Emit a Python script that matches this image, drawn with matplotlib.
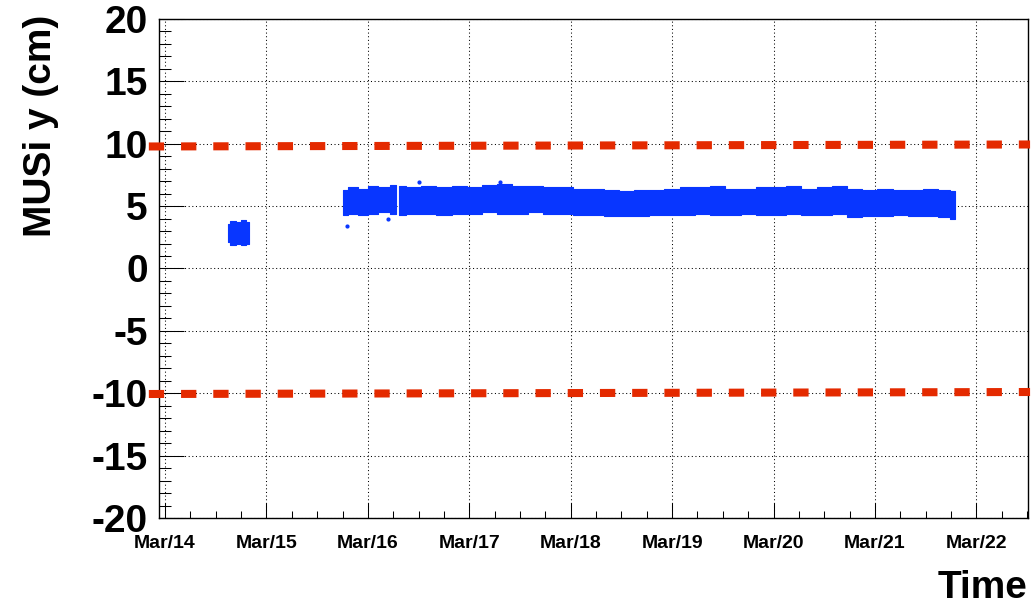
import datetime as dt

import matplotlib
matplotlib.use("Agg")
import matplotlib.pyplot as plt
import matplotlib.dates as mdates
import numpy as np

plt.rcParams["font.family"] = ["Liberation Sans", "DejaVu Sans"]
plt.rcParams["font.weight"] = "bold"
plt.rcParams["axes.unicode_minus"] = False

# time origin: Mar/14 00:00 (year is arbitrary)
T0 = dt.datetime(2012, 3, 14)

# first short run (days since Mar/14, cm)
t_run1 = [0.62, 0.67, 0.72, 0.77, 0.83]
top_run1 = [3.6, 3.8, 3.7, 3.9, 3.7]
bot_run1 = [2.1, 1.9, 2.0, 1.9, 2.0]

# long run envelope; nan marks the short gap on Mar/16
t_band = [1.75, 1.85, 1.95, 2.05, 2.15, 2.28, 2.295, 2.31, 2.45, 2.6, 2.75,
          2.9, 3.05, 3.2, 3.35, 3.5, 3.65, 3.8, 3.95, 4.1, 4.25, 4.4, 4.55,
          4.7, 4.85, 5.0, 5.15, 5.3, 5.45, 5.6, 5.75, 5.9, 6.05, 6.2, 6.35,
          6.5, 6.65, 6.8, 6.95, 7.1, 7.25, 7.4, 7.55, 7.7, 7.79]
top_band = [6.3, 6.5, 6.4, 6.6, 6.5, 6.7, np.nan, 6.6, 6.5, 6.6, 6.5,
            6.6, 6.5, 6.7, 6.8, 6.6, 6.6, 6.5, 6.5, 6.4, 6.4, 6.3, 6.2,
            6.3, 6.3, 6.4, 6.5, 6.5, 6.6, 6.4, 6.4, 6.5, 6.5, 6.6, 6.4,
            6.5, 6.6, 6.4, 6.3, 6.4, 6.3, 6.3, 6.4, 6.3, 6.2]
bot_band = [4.3, 4.4, 4.3, 4.4, 4.5, 4.4, np.nan, 4.3, 4.4, 4.4, 4.3,
            4.4, 4.4, 4.5, 4.4, 4.4, 4.5, 4.4, 4.4, 4.3, 4.3, 4.2, 4.2,
            4.2, 4.3, 4.3, 4.3, 4.4, 4.3, 4.3, 4.4, 4.3, 4.3, 4.4, 4.3,
            4.3, 4.4, 4.1, 4.2, 4.2, 4.3, 4.2, 4.2, 4.1, 4.0]

# stray points
t_out = [1.79, 2.2, 2.5, 3.3]
y_out = [3.4, 4.0, 6.9, 6.9]

# limit lines (start/end time in days, y at each end)
lim_t = [-0.16, 8.53]
lim_hi = [9.78, 9.94]
lim_lo = [-10.06, -9.90]

x_range = [-0.06, 8.51]
y_range = [-20, 20]

BLUE = "#0836ff"
RED = "#e42a00"


def to_dates(days):
    return [T0 + dt.timedelta(days=d) for d in days]


fig = plt.figure(figsize=(10.33, 6.10), dpi=100)
ax = fig.add_axes([0.1539, 0.1508, 0.8413, 0.8181])

ax.fill_between(to_dates(t_run1), bot_run1, top_run1, step="mid",
                color=BLUE, lw=0.8, zorder=3)
ax.fill_between(to_dates(t_band), np.array(bot_band), np.array(top_band),
                step="mid", color=BLUE, lw=0.8, zorder=3)
ax.scatter(to_dates(t_out), y_out, s=4, color=BLUE, zorder=3)

for ys in (lim_hi, lim_lo):
    ax.plot(to_dates(lim_t), ys, color=RED, lw=5.8,
            linestyle=(0, (1.9, 2.1)), solid_capstyle="butt",
            dash_capstyle="butt", clip_on=False, zorder=5)

ax.set_xlim(to_dates(x_range))
ax.set_ylim(*y_range)

ax.xaxis.set_major_locator(mdates.DayLocator())
ax.xaxis.set_minor_locator(mdates.HourLocator(byhour=[6, 12, 18]))
ax.xaxis.set_major_formatter(mdates.DateFormatter("%b/%d"))
ax.yaxis.set_major_locator(plt.MultipleLocator(5))
ax.yaxis.set_minor_locator(plt.MultipleLocator(1))

ax.tick_params(axis="x", which="major", direction="in", length=10.8,
               width=0.75, labelsize=14, pad=12)
ax.tick_params(axis="x", which="minor", direction="in", length=5, width=0.75)
ax.tick_params(axis="y", which="major", direction="in", length=18,
               width=0.75, labelsize=28, pad=8)
ax.tick_params(axis="y", which="minor", direction="in", length=8.6,
               width=0.75)
ax.tick_params(top=False, right=False, which="both")
for lab in ax.get_xticklabels() + ax.get_yticklabels():
    lab.set_fontweight("bold")

ax.grid(True, which="major", color="black", lw=0.75,
        linestyle=(0, (1, 2.5)))
ax.set_axisbelow(True)
for sp in ax.spines.values():
    sp.set_linewidth(1.0)

fig.text(41 / 1033, 1 - 15 / 610, "MUSi y (cm)", rotation=90,
         ha="center", va="top", fontsize=28, fontweight="bold")
fig.text(1028 / 1033, 1 - 588 / 610, "Time", ha="right", va="center",
         fontsize=28, fontweight="bold")

fig.savefig("out.png", dpi=100)
